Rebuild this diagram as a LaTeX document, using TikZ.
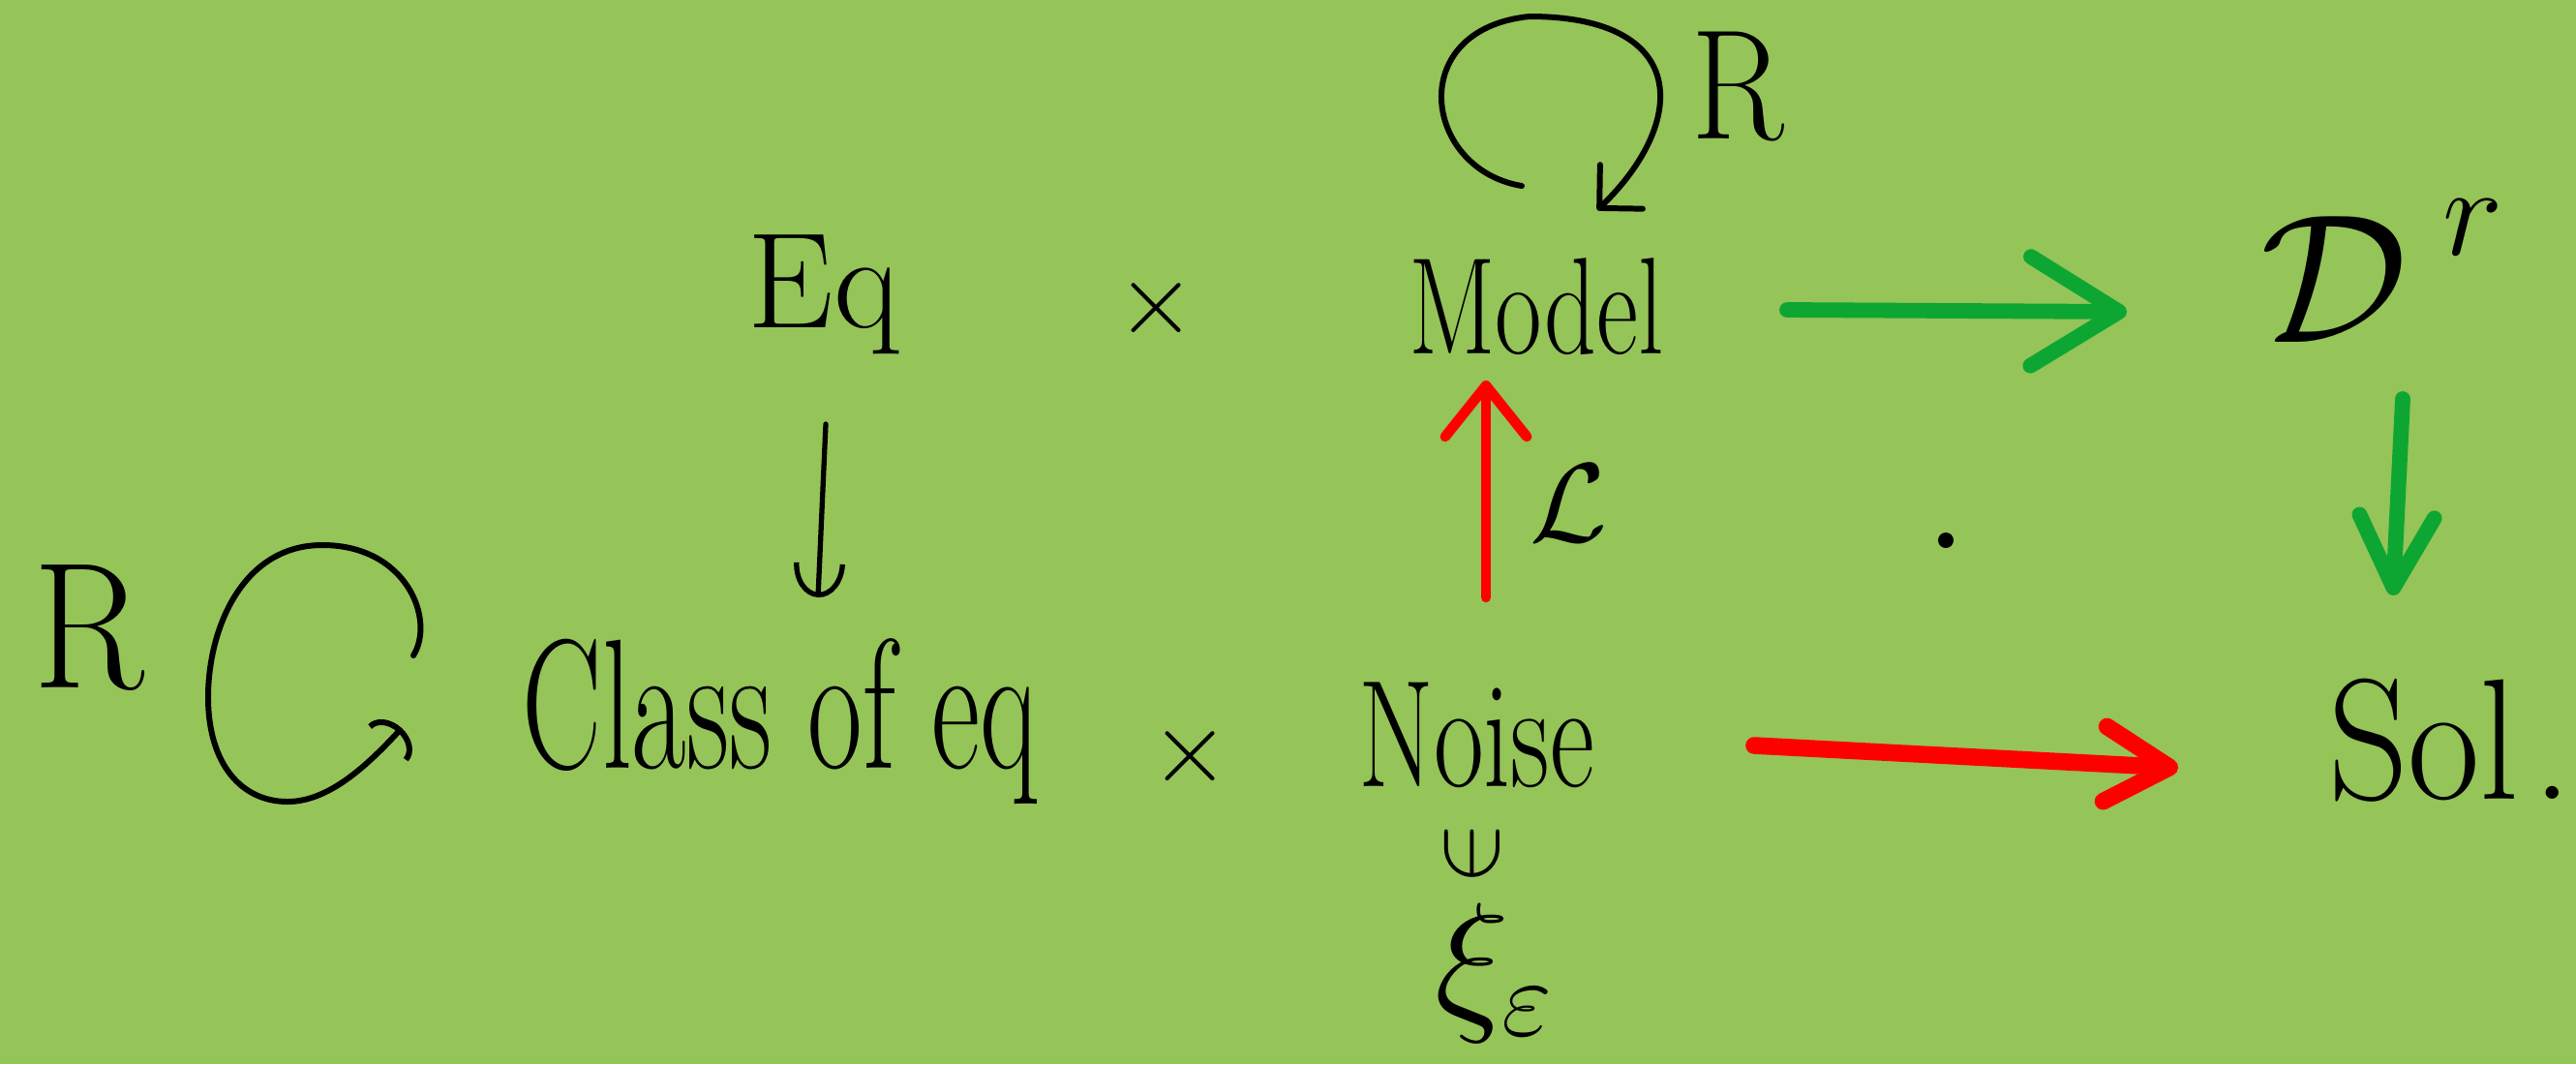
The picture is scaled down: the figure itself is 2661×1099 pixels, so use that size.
\RequirePackage{fix-cm}
\documentclass[tikz,border=0pt]{standalone}
\usepackage{graphicx}
\usetikzlibrary{arrows.meta}
\definecolor{board}{RGB}{149,196,89}
\definecolor{pengreen}{RGB}{14,166,50}
\definecolor{penred}{RGB}{255,0,0}
% stretch a word vertically, as the hand-written letters are tall and narrow
\newcommand\tallword[2]{\scalebox{1}[#1]{#2}}

\begin{document}
\begin{tikzpicture}[x=0.01cm,y=-0.01cm,
  word/.style={inner sep=0pt,outer sep=0pt,text=black},
  ink/.style={draw=black,line width=1.7pt,line cap=round,line join=round},
  greenpen/.style={draw=pengreen,line width=4.5pt,line cap=round,
    -{Straight Barb[round,length=26pt,width=32pt]}},
  greenpendown/.style={draw=pengreen,line width=4.5pt,line cap=round,
    -{Straight Barb[round,length=21pt,width=22pt]}},
  redpen/.style={draw=penred,line width=5pt,line cap=round,
    -{Straight Barb[round,length=19pt,width=22pt]}},
  redpenup/.style={draw=penred,line width=3pt,line cap=round,
    -{Straight Barb[round,length=15pt,width=24pt]}},
]
% board
\fill[board] (0,0) rectangle (2661,1099);
\useasboundingbox (0,0) rectangle (2661,1099);

% top row
\node[word,anchor=base,font=\fontsize{40}{48}\selectfont] (eq) at (851,338) {Eq};
\node[word,font=\fontsize{30}{36}\selectfont] (times1) at (1195,318) {$\times$};
\node[word,anchor=base,font=\fontsize{30}{36}\selectfont] (model) at (1587,365) {\tallword{1.35}{Model}};
\node[word,anchor=base,font=\fontsize{40}{48}\selectfont] (Rtop) at (1795,143) {\tallword{1.15}{R}};
\node[word,anchor=base west,font=\fontsize{54}{62}\selectfont] (D) at (2335,353)
  {$\mathcal{D}^{\mkern5mu\raisebox{6pt}{$\scriptstyle r$}}$};

% middle labels
\node[word,font=\fontsize{33}{40}\selectfont] (L) at (1620,520) {$\mathcal{L}$};
\node[circle,fill=black,inner sep=0pt,minimum size=0.16cm] (dot) at (2010,558) {};

% bottom row
\node[word,anchor=base,font=\fontsize{48}{56}\selectfont] (Rleft) at (92,710) {\tallword{1.1}{R}};
\node[word,anchor=base,font=\fontsize{35}{42}\selectfont] (class) at (806,793) {\tallword{1.55}{Class of eq}};
\node[word,font=\fontsize{30}{36}\selectfont] (times2) at (1230,781) {$\times$};
\node[word,anchor=base,font=\fontsize{32}{38}\selectfont] (noise) at (1525,812) {\tallword{1.4}{Noise}};
\node[word,anchor=base west,font=\fontsize{46}{54}\selectfont] (sol) at (2405,825) {\tallword{1.1}{Sol}\hspace{4pt}.};
\node[word,font=\fontsize{28}{34}\selectfont] (in) at (1521,882) {\rotatebox{90}{$\in$}};
\node[word,anchor=base west,font=\fontsize{46}{54}\selectfont] (xi) at (1482,1045) {$\xi_{\varepsilon}$};

% self-loop on Model
\begin{scope}[shift={(model.base)}]
  \draw[ink,-{Straight Barb[round,length=9pt,width=18pt]}]
    (-15,-173) .. controls (-117,-190) and (-137,-335) .. (-7,-348)
    .. controls (158,-348) and (158,-240) .. (63,-148);
\end{scope}

% self-loop on the class of equations
\begin{scope}[shift={(class.base)}]
  \draw[ink,-{Arc Barb[length=6pt,width=16pt]}]
    (-379,-116) .. controls (-356,-153) and (-386,-230) .. (-473,-230)
    .. controls (-556,-230) and (-591,-143) .. (-591,-73)
    .. controls (-591,-3) and (-556,35) .. (-509,35)
    .. controls (-466,35) and (-426,-3) .. (-391,-41);
\end{scope}

% Eq -> Class of eq
\draw[ink,line width=1.5pt,-{Arc Barb[length=10pt,width=15pt]}]
  ([shift={(2,100)}]eq.base) -- ([shift={(39,-176)}]class.base);

% Model -> D^r and D^r -> Sol
\draw[greenpen] ([shift={(127,-45)}]model.base east) -- ([shift={(-138,-31)}]D.base west);
\draw[greenpendown] ([shift={(147,59)}]D.base west) -- ([shift={(67,-210)}]sol.base west);

% Noise -> Model (L) and Noise -> Sol
\draw[redpenup] ([shift={(10,-195)}]noise.base) -- ([shift={(-52,28)}]model.base);
\draw[redpen] ([shift={(165,-42)}]noise.base east) -- ([shift={(-155,-32)}]sol.base west);
\end{tikzpicture}
\end{document}
